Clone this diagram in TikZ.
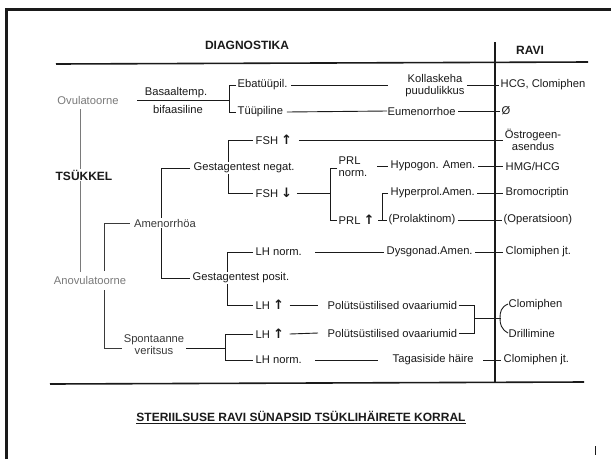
\documentclass[tikz,border=0pt]{standalone}
\usepackage{fontspec}
\setmainfont{Liberation Sans}
\newfontfamily\arrfont{DejaVu Sans}
\newcommand\myup{{\arrfont\bfseries\fontsize{13}{12}\selectfont ↑}}
\newcommand\mydown{{\arrfont\bfseries\fontsize{13}{12}\selectfont ↓}}
\definecolor{ink}{HTML}{1A1A1A}
\definecolor{soft}{HTML}{7A7A7A}
\definecolor{mid}{HTML}{3A3A3A}
\begin{document}
\begin{tikzpicture}[x=1pt,y=-1pt,
  txt/.style={font=\fontsize{11.2}{12}\selectfont, inner sep=0.5pt, text=ink},
  lbl/.style={txt, anchor=west},
  hd/.style={font=\bfseries\fontsize{12}{14}\selectfont, inner sep=1pt, text=ink},
  ln/.style={draw=ink, line width=0.9pt},
  gl/.style={draw=soft, line width=0.7pt},
  rule/.style={draw=ink, line width=1.6pt}]
\useasboundingbox (0,0) rectangle (611,459);
\fill[white] (0,0) rectangle (611,459);
% frame
\draw[line width=3pt, ink] (6.5,459) -- (6.5,9.5) -- (611,9.5);
\draw[ink, line width=0.8pt] (595,446) -- (595,455);

% headers and rules
\node[hd] (diag) at (247,45) {DIAGNOSTIKA};
\node[hd] (ravi) at (530,50) {RAVI};
\coordinate (hl) at (56,64); \coordinate (hr) at (588,62);
\coordinate (bl) at (50,384); \coordinate (br) at (584,382);
\coordinate (vtop) at (495,42); \coordinate (vbot) at (495,383);
\draw[rule] (hl) -- (hr);
\draw[rule] (bl) -- (br);
\draw[rule, line width=1.4pt] (vtop) -- (vbot);

% left column
\node[txt, text=soft] (ovu) at (88,100) {Ovulatoorne};
\node[txt, text=soft] (anov) at (90,280) {Anovulatoorne};
\draw[gl] (80,109) -- (80,272);
\node[hd, fill=white] (tsk) at (84,175) {TSÜKKEL};

% ovulatory branch
\node[txt] (bas) at (176,93) {Basaaltemp.};
\node[txt] (bif) at (178,109) {bifaasiline};
\draw[ln] (137,100) -- (229,100);
\draw[ln] (236,85) -- (229,85) -- (229,112) -- (236,112);
\node[lbl] (ebat) at (237,85) {Ebatüüpil.};
\node[lbl] (tuup) at (237,112) {Tüüpiline};
\node[txt, align=center] (kol) at (435,86) {Kollaskeha\\puudulikkus};
\node[lbl] (eum) at (387,111) {Eumenorrhoe};
\draw[ln] (ebat.east) ++(3,0) -- (388,85);
\draw[ln] (tuup.east) ++(3,0) -- (eum.west);
\draw[ln] (467,85) -- (499,85);
\draw[ln] (eum.east) ++(2,0) -- (500,111);
\node[lbl] (hcg) at (500,85) {HCG, Clomiphen};
\node[lbl] (zero) at (501,111) {Ø};

% anovulatory: amenorrhoea
\draw[ln, draw=mid] (104,271) -- (104,223) -- (130,223);
\draw[ln] (190,168) -- (161,168) -- (161,278) -- (190,278);
\node[txt, text=mid, fill=white] (amen) at (165,223) {Amenorrhöa};

% gestagen negative
\draw[ln] (253,140) -- (228,140) -- (228,193) -- (253,193);
\node[lbl, fill=white] (gneg) at (193,168) {Gestagentest negat.};
\node[lbl] (fshu) at (255,140) {FSH \myup};
\node[txt, align=center] (ostr) at (533,140) {Östrogeen-\\asendus};
\draw[ln] (fshu.east) ++(6,0) -- (503,140);

\node[lbl] (fshd) at (255,193) {FSH \mydown};
\draw[ln] (fshd.east) ++(4,0) -- (330,193);
\draw[ln] (337,168) -- (330,168) -- (330,220) -- (337,220);
\node[lbl, align=left] (prln) at (338,167) {PRL\\norm.};
\node[lbl] (prlu) at (338,220) {PRL \myup};
\draw[ln] (377,166) -- (388,166);
\node[lbl] (hypo) at (390,166) {Hypogon. Amen.};
\draw[ln] (hypo.east) ++(2,0) -- (503,166);
\node[lbl] (hmg) at (505,166) {HMG/HCG};

\draw[ln] (prlu.east) ++(3,0) -- (382,220);
\draw[ln] (388,193) -- (382,193) -- (382,220) -- (387,220);
\node[lbl] (hyper) at (390,193) {Hyperprol.Amen.};
\node[lbl] (prolak) at (388,220) {(Prolaktinom)};
\draw[ln] (hyper.east) ++(2,0) -- (503,193);
\draw[ln] (prolak.east) ++(2,0) -- (502,220);
\node[lbl] (bromo) at (505,193) {Bromocriptin};
\node[lbl] (oper) at (503,220) {(Operatsioon)};

% gestagen positive
\draw[ln] (253,252) -- (227,252) -- (227,305) -- (253,305);
\node[lbl, fill=white] (gpos) at (192,278) {Gestagentest posit.};
\node[lbl] (lhn) at (255,252) {LH norm.};
\draw[ln] (315,252) -- (384,252);
\node[lbl] (dysg) at (386,252) {Dysgonad.Amen.};
\draw[ln] (dysg.east) ++(2,0) -- (503,252);
\node[lbl] (clo1) at (505,252) {Clomiphen jt.};

\node[lbl] (lhu1) at (255,305) {LH \myup};
\draw[ln] (lhu1.east) ++(5,0) -- (318,305);
\node[lbl] (pol1) at (327,305) {Polütsüstilised ovaariumid};

% spontaneous bleeding
\draw[ln, draw=mid] (104,290) -- (104,348) -- (122,348);
\node[txt, text=mid, align=center] (spont) at (154,345) {Spontaanne\\veritsus};
\draw[ln] (186,348) -- (225,348);
\draw[ln] (253,334) -- (225,334) -- (225,360) -- (253,360);
\node[lbl] (lhu2) at (255,334) {LH \myup};
\draw[ln] (lhu2.east) ++(5,0) -- (318,333);
\node[lbl] (pol2) at (327,333) {Polütsüstilised ovaariumid};
\draw[ln] (pol1.east) ++(1,0) -- (474,305) -- (474,333) -- ([xshift=1pt]pol2.east);
\draw[ln] (474,318) -- (501,318);
\draw[ln] (508,304) .. controls (501,307) and (500,312) .. (500,318)
                    .. controls (500,324) and (501,329) .. (508,333);
\node[lbl] (clo2) at (508,305) {Clomiphen};
\node[lbl] (drill) at (508,333) {Drillimine};

\node[lbl] (lhn2) at (255,360) {LH norm.};
\draw[ln] (315,360) -- (378,360);
\node[lbl] (tagas) at (392,360) {Tagasiside häire};
\draw[ln] (483,360) -- (501,360);
\node[lbl] (clo3) at (503,360) {Clomiphen jt.};

% title
\node[font=\bfseries\fontsize{12}{14}\selectfont, text=ink, inner sep=0pt] (title) at (301,416) {STERIILSUSE RAVI SÜNAPSID TSÜKLIHÄIRETE KORRAL};
\draw[ink, line width=0.9pt] ([yshift=-2.5pt]title.south west) -- ([yshift=-2.5pt]title.south east);
\end{tikzpicture}
\end{document}
